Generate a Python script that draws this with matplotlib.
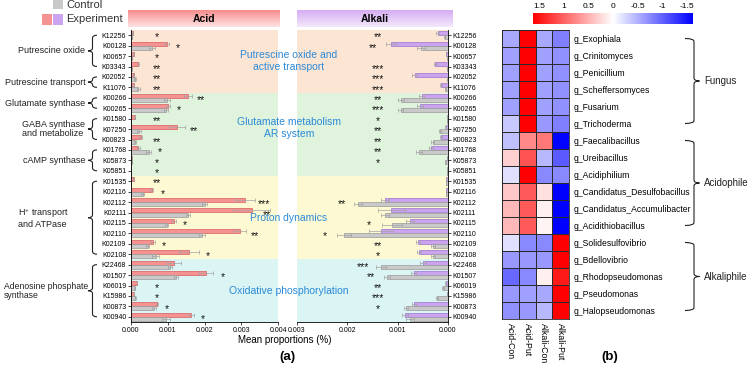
import numpy as np
import matplotlib
matplotlib.use("Agg")
import matplotlib.pyplot as plt
from matplotlib.path import Path
from matplotlib.patches import PathPatch, Rectangle
from matplotlib.colors import Normalize, to_rgb
from matplotlib.cm import ScalarMappable

plt.rcParams['font.family'] = ['Liberation Sans', 'DejaVu Sans']
plt.rcParams['axes.unicode_minus'] = False
plt.rcParams['mathtext.fontset'] = 'custom'
plt.rcParams['mathtext.rm'] = 'Liberation Sans'

W, H = 749, 366

# ------------------------------------------------------------------------------
# data, panel (a)

genes = ["K12256", "K00128", "K00657", "K03343", "K02052", "K11076",
         "K00266", "K00265", "K01580", "K07250", "K00823", "K01768", "K05873", "K05851",
         "K01535", "K02116", "K02112", "K02111", "K02115", "K02110", "K02109", "K02108",
         "K22468", "K01507", "K06019", "K15986", "K00873", "K00940"]

acid_exp = [0.00005, 0.00097, 0.00007, 0.00020, 0.00007, 0.00007,
            0.00155, 0.00100, 0.00010, 0.00125, 0.00026, 0.00020, 0.00002, 0.00001,
            0.00007, 0.00056, 0.00310, 0.00328, 0.00117, 0.00296, 0.00060, 0.00158,
            0.00117, 0.00204, 0.00016, 0.00008, 0.00070, 0.00163]
acid_exp_err = [0.00001, 0.00006, 0.00001, 0.00002, 0.00001, 0.00001,
                0.00010, 0.00005, 0.00001, 0.00022, 0.00004, 0.00004, 0.00001, 0.0,
                0.00001, 0.00005, 0.00028, 0.00050, 0.00005, 0.00016, 0.00005, 0.00027,
                0.00020, 0.00020, 0.00001, 0.00001, 0.00003, 0.00008]
acid_ctrl = [0.00003, 0.00056, 0.00002, 0.00002, 0.00010, 0.00020,
             0.00097, 0.00095, 0.00001, 0.00021, 0.00010, 0.00048, 0.00002, 0.00001,
             0.00001, 0.00032, 0.00200, 0.00155, 0.00097, 0.00193, 0.00046, 0.00067,
             0.00107, 0.00122, 0.00010, 0.00012, 0.00062, 0.00095]
acid_ctrl_err = [0.00001, 0.00008, 0.00001, 0.00001, 0.00003, 0.00004,
                 0.00008, 0.00005, 0.0, 0.00006, 0.00003, 0.00006, 0.00001, 0.0,
                 0.0, 0.00004, 0.00007, 0.00005, 0.00004, 0.00008, 0.00004, 0.00010,
                 0.00005, 0.00005, 0.00002, 0.00002, 0.00006, 0.00010]

alkali_exp = [0.00020, 0.00114, 0.00003, 0.00025, 0.00066, 0.00014,
              0.00052, 0.00056, 0.00002, 0.00004, 0.00014, 0.00034, 0.00002, 0.00001,
              0.00003, 0.00003, 0.00126, 0.00113, 0.00076, 0.00133, 0.00060, 0.00058,
              0.00050, 0.00068, 0.00004, 0.00001, 0.00068, 0.00086]
alkali_exp_err = [0.00003, 0.00010, 0.0, 0.00003, 0.00005, 0.00002,
                  0.00005, 0.00006, 0.0, 0.00001, 0.00002, 0.00004, 0.0, 0.0,
                  0.0, 0.0, 0.00008, 0.00027, 0.00008, 0.00024, 0.00004, 0.00004,
                  0.00006, 0.00005, 0.00001, 0.0, 0.00004, 0.00006]
alkali_ctrl = [0.00006, 0.00053, 0.00002, 0.00002, 0.00002, 0.00005,
               0.00093, 0.00094, 0.00002, 0.00016, 0.00030, 0.00058, 0.00005, 0.00001,
               0.00003, 0.00003, 0.00178, 0.00126, 0.00112, 0.00206, 0.00030, 0.00030,
               0.00133, 0.00122, 0.00010, 0.00022, 0.00083, 0.00076]
alkali_ctrl_err = [0.00001, 0.00008, 0.0, 0.0, 0.0, 0.00001,
                   0.00006, 0.00005, 0.0, 0.00002, 0.00003, 0.00006, 0.00001, 0.0,
                   0.0, 0.0, 0.00008, 0.00008, 0.00020, 0.00014, 0.00004, 0.00004,
                   0.00010, 0.00006, 0.00002, 0.00002, 0.00004, 0.00008]

acid_sig = ["*", "*", "*", "**", "**", "**",
            "**", "*", "**", "**", "**", "*", "*", "*",
            "**", "*", "***", "**", "*", "**", "*", "*",
            "", "*", "*", "*", "*", "*"]
alkali_sig = ["**", "**", "", "***", "***", "***",
              "**", "***", "*", "**", "**", "**", "*", "",
              "", "", "**", "", "*", "*", "**", "*",
              "***", "**", "**", "***", "*", ""]

# (label, first row, last row)
function_groups = [("Putrescine oxide", 0, 3),
                   ("Putrescine transport", 4, 5),
                   ("Glutamate synthase", 6, 7),
                   ("GABA synthase\nand metabolize", 8, 10),
                   ("cAMP synthase", 11, 13),
                   ("H$^{+}$ transport\nand ATPase", 14, 21),
                   ("Adenosine phosphate\nsynthase", 22, 27)]
# (label, first row, last row)
pathway_bands = [("Putrescine oxide and\nactive transport", 0, 5),
                 ("Glutamate metabolism\nAR system", 6, 13),
                 ("Proton dynamics", 14, 21),
                 ("Oxidative phosphorylation", 22, 27)]

# ------------------------------------------------------------------------------
# data, panel (b)

genera = ["g_Exophiala", "g_Crinitomyces", "g_Penicillium", "g_Scheffersomyces",
          "g_Fusarium", "g_Trichoderma", "g_Faecalibacillus", "g_Ureibacillus",
          "g_Acidiphilium", "g_Candidatus_Desulfobacillus", "g_Candidatus_Accumulibacter",
          "g_Acidithiobacillus", "g_Solidesulfovibrio", "g_Bdellovibrio",
          "g_Rhodopseudomonas", "g_Pseudomonas", "g_Halopseudomonas"]
samples = ["Acid-Con", "Acid-Put", "Alkali-Con", "Alkali-Put"]
acid_con = [-0.55, -0.6, -0.6, -0.6, -0.6, -0.35, -0.4, 0.3, -0.2, 0.35, 0.45, 0.45,
            -0.2, -0.65, -0.95, -0.65, -0.7]
acid_put = [1.65, 1.65, 1.65, 1.65, 1.65, 1.65, 0.75, 1.1, 1.65, 1.05, 1.05, 1.05,
            -0.75, -0.65, -0.75, -0.6, -0.65]
alkali_con = [-0.55, -0.6, -0.6, -0.6, -0.6, -0.65, 0.85, -0.45, -0.75, 0.2, 0.1, 0.07,
              -0.75, -0.65, 0.1, -0.55, -0.45]
alkali_put = [-0.8, -0.7, -0.7, -0.7, -0.7, -0.8, -1.6, -1.05, -0.75, -1.65, -1.65, -1.65,
              1.65, 1.65, 1.45, 1.65, 1.65]
habitat_groups = [("Fungus", 0, 5), ("Acidophile", 6, 11), ("Alkaliphile", 12, 16)]

# ------------------------------------------------------------------------------
# styles

PINK, PINK_EDGE = "#f59393", "#d95c5c"
PURPLE, PURPLE_EDGE = "#cba4ef", "#9c72cf"
GRAY, GRAY_EDGE = "#c9c9c9", "#9a9a9a"
BANDS = ["#fde5d4", "#e0f3dd", "#fdfad3", "#dbf4f4"]
BLUE_TXT = "#2a8ad8"

TOP, BOTTOM = 30, 322
ROW_H = (BOTTOM - TOP) / len(genes)


def px(x0, y0, x1, y1):
    """figure-pixel box (top-left origin) -> add_axes rect"""
    return [x0 / W, 1 - y1 / H, (x1 - x0) / W, (y1 - y0) / H]


def brace(ax, x_edge, x_spine, x_tip, y0, y1, lw=0.8):
    ym = (y0 + y1) / 2
    r = min(3.0, (y1 - y0) / 4)
    verts = [(x_edge, y0), (x_spine, y0), (x_spine, y0 + r),
             (x_spine, ym - r), (x_spine, ym), (x_tip, ym),
             (x_spine, ym), (x_spine, ym + r),
             (x_spine, y1 - r), (x_spine, y1), (x_edge, y1)]
    codes = [Path.MOVETO, Path.CURVE3, Path.CURVE3, Path.LINETO, Path.CURVE3,
             Path.CURVE3, Path.CURVE3, Path.CURVE3, Path.LINETO, Path.CURVE3,
             Path.CURVE3]
    ax.add_patch(PathPatch(Path(verts, codes), fill=False, lw=lw, color="#222222"))


def bar_panel(ax, exp, exp_err, ctrl, ctrl_err, sig, exp_col, exp_edge, floor, ceil):
    y = np.arange(len(genes))
    ekw = dict(ecolor="#a3a3a3", elinewidth=0.5, capsize=1.3, capthick=0.5)
    ax.barh(y - 0.2, exp, height=0.38, xerr=exp_err, color=exp_col,
            edgecolor=exp_edge, linewidth=0.5, error_kw=ekw, zorder=2)
    ax.barh(y + 0.2, ctrl, height=0.38, xerr=ctrl_err, color=GRAY,
            edgecolor=GRAY_EDGE, linewidth=0.5, error_kw=ekw, zorder=2)
    for i, s in enumerate(sig):
        if not s:
            continue
        top = max(exp[i] + exp_err[i], ctrl[i] + ctrl_err[i])
        xs = min(max(top + 0.00025, floor), ceil)
        ax.text(xs, i + 0.22, s, ha="center", va="center",
                fontsize=7.5, color="#111111", zorder=3)
    for (_, a, b), c in zip(pathway_bands, BANDS):
        ax.axhspan(a - 0.5, b + 0.5, color=c, lw=0, zorder=0)
    ax.set_ylim(len(genes) - 0.5, -0.5)
    ax.set_yticks(y)
    ax.set_yticklabels(genes)
    ax.tick_params(axis="both", labelsize=5, length=2, width=0.5, pad=1.5)
    ax.xaxis.set_major_formatter(plt.FormatStrFormatter("%.3f"))
    for sp in ax.spines.values():
        sp.set_linewidth(0.6)
    ax.spines["top"].set_visible(False)


fig = plt.figure(figsize=(W / 100, H / 100), dpi=100)

# acid panel
ax_acid = fig.add_axes(px(131, TOP, 278, BOTTOM))
bar_panel(ax_acid, acid_exp, acid_exp_err, acid_ctrl, acid_ctrl_err, acid_sig,
          PINK, PINK_EDGE, 0.0007, 0.0037)
ax_acid.set_xlim(0, 0.004)
ax_acid.set_xticks([0, 0.001, 0.002, 0.003, 0.004])
ax_acid.spines["right"].set_visible(False)

# alkali panel
ax_alk = fig.add_axes(px(297, TOP, 448, BOTTOM))
bar_panel(ax_alk, alkali_exp, alkali_exp_err, alkali_ctrl, alkali_ctrl_err, alkali_sig,
          PURPLE, PURPLE_EDGE, 0.0014, 0.0028)
ax_alk.set_xlim(0.003, 0)
ax_alk.set_xticks([0.003, 0.002, 0.001, 0.0])
ax_alk.yaxis.tick_right()
ax_alk.spines["left"].set_visible(False)

# heatmap
ax_hm = fig.add_axes(px(502, 30, 569, 319))
matrix = np.column_stack([acid_con, acid_put, alkali_con, alkali_put])
norm = Normalize(vmin=-1.62, vmax=1.62)
ax_hm.pcolormesh(matrix, cmap="bwr", norm=norm, edgecolors="#2a2a2a", linewidth=0.6)
ax_hm.set_xlim(0, len(samples))
ax_hm.set_ylim(len(genera), 0)
ax_hm.set_xticks(np.arange(len(samples)) + 0.5)
ax_hm.set_xticklabels(samples, rotation=-90, fontsize=6.3)
ax_hm.set_yticks(np.arange(len(genera)) + 0.5)
ax_hm.set_yticklabels(genera, fontsize=6.2)
ax_hm.yaxis.tick_right()
ax_hm.tick_params(length=0, pad=3)
for sp in ax_hm.spines.values():
    sp.set_linewidth(0.6)
    sp.set_color("#2a2a2a")

cax = fig.add_axes(px(533, 13, 693, 24))
cb = fig.colorbar(ScalarMappable(norm=norm, cmap="bwr"), cax=cax, orientation="horizontal")
cb.set_ticks([1.5, 1, 0.5, 0, -0.5, -1, -1.5])
cb.set_ticklabels(["1.5", "1", "0.5", "0", "-0.5", "-1", "-1.5"])
cb.outline.set_visible(False)
cax.invert_xaxis()
cax.xaxis.set_ticks_position("top")
cax.tick_params(length=0, labelsize=6, pad=2)

# ------------------------------------------------------------------------------
# overlay in figure pixels: headers, legend, braces, captions

ov = fig.add_axes([0, 0, 1, 1])
ov.axis("off")


def gradient_box(x0, x1, y0, y1, top_col, bot_col):
    t = np.linspace(0, 1, 32)[:, None, None]
    img = (1 - t) * np.array(to_rgb(top_col)) + t * np.array(to_rgb(bot_col))
    ov.imshow(img, extent=(x0, x1, y1, y0), aspect="auto", origin="upper",
              interpolation="bilinear", zorder=1)


gradient_box(128, 280, 10, 27, "#f78d8d", "#fde2e2")
gradient_box(297, 453, 10, 27, "#d5adf3", "#f3e8fc")
ov.text(204, 18.5, "Acid", ha="center", va="center", fontsize=7.5, fontweight="bold")
ov.text(375, 18.5, "Alkali", ha="center", va="center", fontsize=7.5, fontweight="bold")

# legend
ov.add_patch(Rectangle((53, -1), 10, 10, color=GRAY, lw=0))
ov.add_patch(Rectangle((42, 14), 10, 11, color=PINK, lw=0))
ov.add_patch(Rectangle((53, 14), 10, 11, color=PURPLE, lw=0))
ov.text(66, 4.5, "Control", va="center", fontsize=8, color="#333333")
ov.text(66, 19.5, "Experiment", va="center", fontsize=8, color="#333333")

# function groups on the left (right edge of each label block, in pixels)
label_right = {"H$^{+}$ transport\nand ATPase": 68,
               "Adenosine phosphate\nsynthase": 88}
for label, a, b in function_groups:
    y0 = TOP + (a + 0.5) * ROW_H
    y1 = TOP + (b + 0.5) * ROW_H
    brace(ov, 97, 92.5, 88, y0, y1)
    xr = label_right.get(label, 85.5)
    fs = 6.2 if label.startswith("Adenosine") else 6.5
    ov.text(xr, (y0 + y1) / 2, label, ha="right", va="center", fontsize=fs,
            multialignment="left", color="#222222", linespacing=1.05)

# pathway captions across the two bar panels
for label, a, b in pathway_bands:
    yc = TOP + (a + b + 1) / 2 * ROW_H
    if a == 0:
        yc = 61
    elif a == 6:
        yc = 128
    ov.text(289, yc, label, ha="center", va="center", fontsize=7.5, color=BLUE_TXT,
            linespacing=1.15, zorder=5)

# habitat groups on the right of the heatmap
hm_row = (319 - 30) / len(genera)
for label, a, b in habitat_groups:
    y0 = 30 + (a + 0.5) * hm_row
    y1 = 30 + (b + 0.5) * hm_row
    brace(ov, 685, 694, 699.5, y0, y1)
    ov.text(704, (y0 + y1) / 2, label, ha="left", va="center", fontsize=7,
            color="#222222")

ov.text(285, 340, "Mean proportions (%)", ha="center", va="center", fontsize=7)
ov.text(287, 357, "(a)", ha="center", va="center", fontsize=9.5, fontweight="bold")
ov.text(610, 357, "(b)", ha="center", va="center", fontsize=9.5, fontweight="bold")

ov.set_xlim(0, W)
ov.set_ylim(H, 0)

fig.savefig("out.png", dpi=100, facecolor="w")
